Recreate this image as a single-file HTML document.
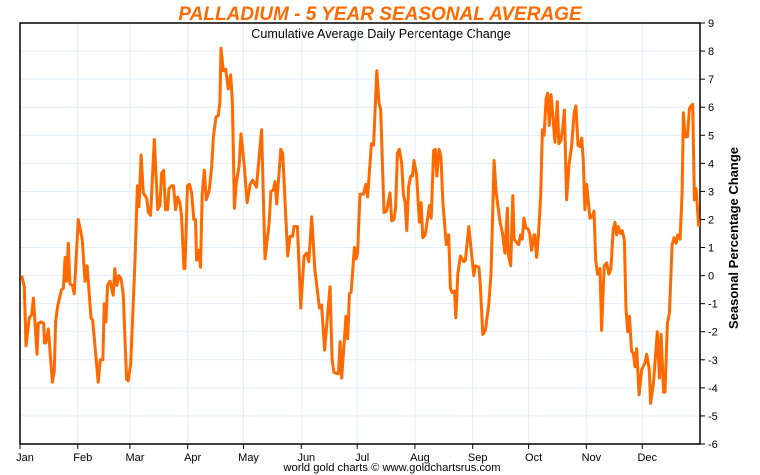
<!DOCTYPE html>
<html><head><meta charset="utf-8"><style>
body{margin:0;background:#fff;}
svg{display:block;font-family:"Liberation Sans",sans-serif;}
</style></head><body>
<svg id="chart" width="760" height="475">
<text x="380" y="20" text-anchor="middle" font-size="19" font-weight="bold" font-style="italic" fill="#ff6a00">PALLADIUM - 5 YEAR SEASONAL AVERAGE</text>
<text x="381" y="38" text-anchor="middle" font-size="12.6" fill="#000">Cumulative Average Daily Percentage Change</text>
<g id="grid"></g>
<g id="axes"></g>
<path id="line" fill="none" stroke="#ff6a00" stroke-width="3" stroke-linejoin="round"></path>
<text x="733" y="233" text-anchor="middle" font-size="13" font-weight="bold" transform="rotate(-90 738 233)">Seasonal Percentage Change</text>
<text x="392" y="471" text-anchor="middle" font-size="11.2">world gold charts © www.goldchartsrus.com</text>
</svg>
<script>
const months=["Jan","Feb","Mar","Apr","May","Jun","Jul","Aug","Sep","Oct","Nov","Dec"];
const monthStarts=[0,31,59,90,120,151,181,212,243,273,304,334];
const yTicks=[-6,-5,-4,-3,-2,-1,0,1,2,3,4,5,6,7,8,9];
const days=[0.9,2.3,3.2,5,6.3,7.2,9.1,9.8,11.3,12.7,13.1,13.8,15.2,17.4,18.4,19.1,20.2,22.3,23.3,24.2,25,25.9,26.8,28.1,29.1,31.3,33.4,34.9,36,38.1,39,42,43.1,44.5,45.2,46.1,47,48.3,50,50.9,52,53.1,54.2,55.4,57.2,58.1,59.4,61.7,63,63.9,65,66.2,68,68.9,70.1,72.1,73.9,75.1,76,77.1,78.1,79.2,79.9,81.4,82.4,83.5,84.6,85.8,86.7,88,88.5,89.9,91,92.1,93.3,94.2,94.8,96,96.9,97.8,98.9,100,101.6,102.9,103.8,105.2,106.4,107.3,107.9,109.1,110.4,111.8,113.1,114,115.1,116.1,117.6,118.6,120.4,121.9,123.5,124.9,126.9,129.7,131.5,133.7,134.7,136,136.9,137.8,140,141,143.7,145,146.4,147.1,148.9,150.7,152.5,153.9,155,156.6,158.3,160.7,161.9,163.5,166.4,167.5,168.5,170.9,171.8,172.7,175,175.9,176.8,177.7,179.5,180.4,181.2,182.5,184.3,185.6,186.6,188.6,189.8,191.5,192.7,193.6,195.4,196.8,198.6,199.5,200.7,201.6,202.6,203.6,204.9,205.8,206.7,207.6,208.6,209.7,210.6,211.5,212.9,214.4,215.3,216.2,217.5,219.8,220.7,222,222.9,223.8,224.9,225.9,227,228.8,230.1,231,231.9,233.2,233.9,235,236.4,238.2,239.1,240.9,242.2,243.6,244.4,246.3,247.1,248.4,249.8,251.6,252.8,254.5,255.6,257.6,259,260.3,261.6,262.1,263.4,264.5,265.2,267,267.7,268.7,269.6,270.5,271.6,272.9,273.7,274.6,275.9,276.4,277.3,278.2,279.5,280.4,281.3,282.4,283.2,284.1,285,285.9,287.1,288.4,289.2,290.3,291.3,292.2,293.4,294.8,296.1,297.4,298.4,299.5,300.6,301.5,302.3,303.2,304.2,305.9,307.2,308.1,309,310,311.3,312.2,313.6,314.9,316.1,317.2,318.4,319.4,320.3,321.1,322.4,323.3,324.4,325.3,326.2,327.1,328.3,329.2,330.1,331,332.3,333.7,335.5,336.4,337.8,338.5,340,342.1,343.2,344.1,345.4,346.2,347.5,348.6,350,351.1,352.2,353.1,354.3,355.4,356.1,357,358.3,359.3,360.2,361.1,362,362.9,364.3];
const values=[0,-0.4,-2.5,-1.5,-1.4,-0.8,-2.8,-1.7,-1.65,-1.7,-2.4,-2.4,-1.9,-3.8,-3.4,-1.65,-1.1,-0.5,-0.45,0.65,-0.2,1.15,-0.3,-0.35,-0.65,2.0,1.3,-0.2,0.35,-1.5,-1.6,-3.8,-3,-3,-1,-1.65,-0.35,-0.2,-0.7,0.25,-0.35,0,-0.1,-0.65,-3.7,-3.75,-3.15,0.45,3.2,2.45,4.3,2.95,2.75,2.25,2.15,4.85,2.35,2.5,3.65,3.75,2.35,2.35,3.1,3.2,3.2,2.35,2.8,2.6,2.15,0.25,0.25,3.2,3.25,2.95,2,2,0.55,0.9,0.3,2.9,3.75,2.7,3.05,3.9,4.95,5.65,5.7,6.15,8.1,7.3,7.35,6.65,7.15,6.15,2.4,3.3,3.9,5.05,3.9,2.6,3.25,3.4,3.15,5.2,0.6,1.85,3,3.05,3.35,2.55,4.5,4.35,0.7,1.4,1.4,1.75,1.75,-1.15,0.7,0.8,0.5,2.1,0.2,-1.15,-1.05,-2.65,-0.4,-3,-3.45,-3.5,-2.35,-3.65,-1.45,-2.25,-0.65,-0.6,1,0.6,0.8,2.9,2.9,3.25,2.8,4.7,4.65,7.3,6.15,5.9,2.25,2.3,2.95,1.95,2,2.4,4.35,4.5,4,2.9,2.6,1.6,3.15,3.55,3.55,4.1,3.6,1.9,2.6,1.35,1.45,2.5,2.05,4.45,4.5,3.55,4.5,4.25,2.6,1.1,1.45,-0.45,-0.6,-0.55,-1.5,0.05,0.7,0.5,0.55,1.75,0.9,0,0.35,0.3,-0.4,-2.1,-1.95,-1.05,0.05,4.1,2.95,1.95,1.5,0.8,2.4,0.75,0.35,2.85,1.3,1.15,1.1,1.45,1.3,2.05,1.7,1.65,1.45,0.9,1.45,1.45,0.65,1.35,2.85,5.2,5,6.3,6.5,5.35,6.45,5.8,4.75,6.2,4.7,4.8,5.25,5.9,2.7,4,4.6,5.8,6.05,4.65,4.6,4.9,4.15,2.35,3.25,2.05,2.1,2.3,0.55,0.05,0.25,-1.95,0.35,0.45,0.05,0.25,1.65,1.9,1.45,1.75,1.5,1.6,1.25,-1.2,-2,-1.45,-2.7,-2.75,-3.25,-2.6,-4.25,-3.35,-3.1,-2.8,-3.35,-4.55,-3.85,-2,-3.65,-2.1,-4.15,-4.15,-1.7,-1.35,1.1,1.35,1.15,1.45,1.3,2.95,5.8,4.95,4.95,5.95,6.05,6.1,2.7,3.1,1.75];

const L=20,R=700,T=23,B=444,yMin=-6,yMax=9,D=365;
const xS=d=>L+(d/D)*(R-L);
const yS=v=>B-(v-yMin)/(yMax-yMin)*(B-T);
const NS="http://www.w3.org/2000/svg";
const grid=document.getElementById('grid'),axes=document.getElementById('axes');
function mk(tag,attrs,parent){const e=document.createElementNS(NS,tag);for(const k in attrs)e.setAttribute(k,attrs[k]);parent.appendChild(e);return e;}
yTicks.forEach(v=>{
  const y=yS(v);
  const g=mk('line',{x1:L,x2:R,y1:y,y2:y,stroke:'#e2edf6','stroke-width':1},grid);
  
  
  const t=mk('line',{x1:R,x2:R+5,y1:y,y2:y,stroke:'#000'},axes);
  
  
  const tx=mk('text',{x:R+8,y:y+4,'font-size':11},axes);
  tx.textContent=v;
  
  
});
months.forEach((m,i)=>{
  const x=xS(monthStarts[i]);
  if(i>0){const g=mk('line',{x1:x,x2:x,y1:T,y2:B,stroke:'#e2edf6'},grid);
  
  }
  const t=mk('line',{x1:x,x2:x,y1:B,y2:B+5,stroke:'#000'},axes);
  
  
  const tx=mk('text',{x:x+5,y:B+17,'font-size':11,'text-anchor':'middle'},axes);
  tx.textContent=m;
  
  
});
const fr=mk('rect',{x:L,y:T,width:R-L,height:B-T,fill:'none',stroke:'#000','stroke-width':1.5},axes);


document.getElementById('line').setAttribute('d',days.map((d,i)=>(i?'L':'M')+xS(d).toFixed(1)+' '+yS(values[i]).toFixed(1)).join(' '));
</script>
</body></html>
